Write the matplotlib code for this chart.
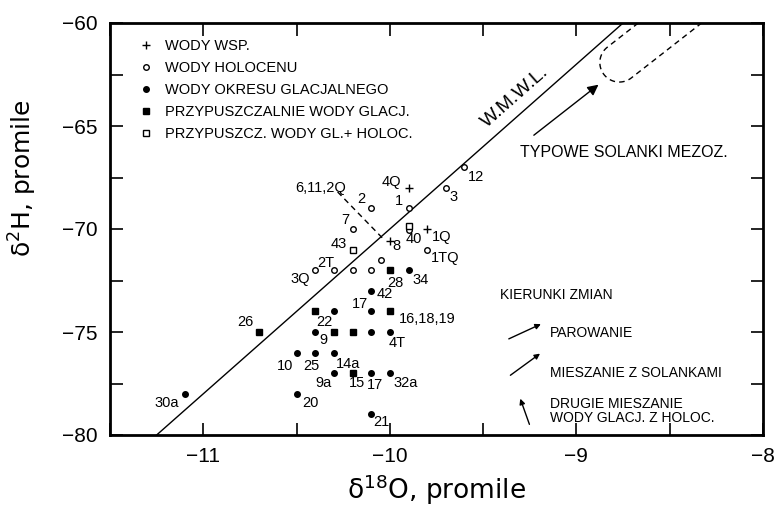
import numpy as np
import matplotlib
matplotlib.use('Agg')
import matplotlib.pyplot as plt
from matplotlib.ticker import MultipleLocator, FuncFormatter
from matplotlib.lines import Line2D

plt.rcParams['font.family'] = ['Liberation Sans', 'DejaVu Sans']

# wody wspolczesne (+)
wsp_x = [-9.9, -9.8, -10.0]
wsp_y = [-68.0, -70.0, -70.6]
wsp_lab = ['4Q', '1Q', '8']

# wody holocenu (o)
hol_x = [-9.6, -9.7, -10.1, -9.9, -10.2, -9.8, -10.05, -10.4, -10.3, -10.2, -10.1, -9.9]
hol_y = [-67.0, -68.0, -69.0, -69.0, -70.0, -71.0, -71.5, -72.0, -72.0, -72.0, -72.0, -70.05]
hol_lab = ['12', '3', '2', '1', '7', '1TQ', '', '3Q', '2T', '', '', '']

# wody okresu glacjalnego (kropka)
gla_x = [-9.9, -10.1, -10.1, -10.3, -10.4, -10.1, -10.0, -10.5, -10.4, -10.3,
         -10.3, -10.1, -10.0, -11.1, -10.5, -10.1]
gla_y = [-72.0, -73.0, -74.0, -74.0, -75.0, -75.0, -75.0, -76.0, -76.0, -76.0,
         -77.0, -77.0, -77.0, -78.0, -78.0, -79.0]
gla_lab = ['34', '42', '17', '22', '9', '', '4T', '10', '25', '14a',
           '9a', '17', '32a', '30a', '20', '21']

# przypuszczalnie wody glacj. (kwadrat)
pgl_x = [-10.0, -10.7, -10.4, -10.3, -10.2, -10.0, -10.2]
pgl_y = [-72.0, -75.0, -74.0, -75.0, -75.0, -74.0, -77.0]
pgl_lab = ['28', '26', '', '', '', '16,18,19', '15']

# przypuszcz. wody gl. + holoc. (pusty kwadrat)
mix_x = [-10.2, -9.9]
mix_y = [-71.0, -69.85]
mix_lab = ['43', '40']

# przesuniecia etykiet (piksele)
wsp_off = [(-17, 6), (14, -8), (7, -5)]
hol_off = [(12, -10), (8, -9), (-10, 9), (-10, 7), (-7, 9), (18, -8), (0, 0),
           (-15, -9), (-8, 7), (0, 0), (0, 0), (0, 0)]
gla_off = [(12, -10), (14, -3), (-11, 7), (-10, -11), (8, -8), (0, 0), (7, -11),
           (-12, -13), (-4, -13), (14, -11), (-10, -10), (4, -12), (16, -10),
           (-18, -9), (14, -9), (10, -8)]
pgl_off = [(6, -13), (-14, 10), (0, 0), (0, 0), (0, 0), (37, -8), (4, -10)]
mix_off = [(-14, 6), (5, -13)]

fig = plt.figure(figsize=(7.79, 5.07), dpi=100)
ax = fig.add_axes([110 / 779, 72 / 507, 653 / 779, 412 / 507])
ax.set_xlim(-11.5, -8)
ax.set_ylim(-80, -60)

# linia W.M.W.L.
lx = np.array([-11.5, -8.0])
ax.plot(lx, 8 * lx + 10, color='black', lw=1)

ax.plot(wsp_x, wsp_y, '+', color='black', ms=6, mew=1)
ax.plot(hol_x, hol_y, 'o', mfc='white', mec='black', ms=4, mew=1)
ax.plot(gla_x, gla_y, 'o', color='black', ms=4)
ax.plot(pgl_x, pgl_y, 's', color='black', ms=4.5)
ax.plot(mix_x, mix_y, 's', mfc='white', mec='black', ms=4.5, mew=1)

for xs, ys, labs, offs in [(wsp_x, wsp_y, wsp_lab, wsp_off),
                           (hol_x, hol_y, hol_lab, hol_off),
                           (gla_x, gla_y, gla_lab, gla_off),
                           (pgl_x, pgl_y, pgl_lab, pgl_off),
                           (mix_x, mix_y, mix_lab, mix_off)]:
    for x, y, t, o in zip(xs, ys, labs, offs):
        if t:
            ax.annotate(t, (x, y), xytext=o, textcoords='offset pixels',
                        ha='center', va='center', fontsize=10.5)

ax.text(-10.37, -68.0, '6,11,2Q', ha='center', va='center', fontsize=10.5)
ax.plot([-10.28, -10.03], [-68.2, -70.53], '--', color='black', lw=1, dashes=(4, 3))

ang = np.degrees(np.arctan(8 * (412 / 20) / (653 / 3.5)))
ax.text(-9.33, -63.6, 'W.M.W.L.', rotation=ang, ha='center', va='center', fontsize=14)

# obszar typowych solanek (przerywany kontur)
cx, cy = ax.transData.transform((-8.77, -61.92))
r = 19.5
a = np.radians(38)
u = np.array([np.cos(a), np.sin(a)])
n = np.array([np.sin(a), -np.cos(a)])
t = np.linspace(np.pi / 2, 3 * np.pi / 2, 40)
arc = np.array([[cx, cy] + r * (np.cos(tt) * u + np.sin(tt) * -n) for tt in t])
p1 = np.array([cx, cy]) + r * n
p2 = np.array([cx, cy]) - r * n
pts = np.vstack([p2 + 120 * u, arc, p1 + 120 * u])
pts = ax.transData.inverted().transform(pts)
ax.plot(pts[:, 0], pts[:, 1], color='black', lw=1, dashes=(4, 3))

ax.annotate('', xy=(-8.87, -62.91), xytext=(-9.24, -65.53),
            arrowprops=dict(arrowstyle='-|>', color='black', lw=1, mutation_scale=16))
ax.text(-9.30, -66.3, 'TYPOWE SOLANKI MEZOZ.', ha='left', va='center', fontsize=11.5)

# kierunki zmian
ax.text(-9.41, -73.2, 'KIERUNKI ZMIAN', ha='left', va='center', fontsize=10)
ax.annotate('', xy=(-9.177, -74.56), xytext=(-9.376, -75.39),
            arrowprops=dict(arrowstyle='-|>', color='black', lw=1, mutation_scale=8))
ax.annotate('', xy=(-9.183, -75.97), xytext=(-9.366, -77.18),
            arrowprops=dict(arrowstyle='-|>', color='black', lw=1, mutation_scale=8))
ax.annotate('', xy=(-9.306, -78.11), xytext=(-9.247, -79.61),
            arrowprops=dict(arrowstyle='-|>', color='black', lw=1, mutation_scale=8))
ax.text(-9.14, -75.05, 'PAROWANIE', ha='left', va='center', fontsize=10)
ax.text(-9.14, -76.99, 'MIESZANIE Z SOLANKAMI', ha='left', va='center', fontsize=10)
ax.text(-9.14, -78.85, 'DRUGIE MIESZANIE\nWODY GLACJ. Z HOLOC.', ha='left',
        va='center', fontsize=10, linespacing=1.0)

# legenda
handles = [
    Line2D([], [], ls='', marker='+', color='black', ms=6, mew=1),
    Line2D([], [], ls='', marker='o', mfc='white', mec='black', ms=4, mew=1),
    Line2D([], [], ls='', marker='o', color='black', ms=4),
    Line2D([], [], ls='', marker='s', color='black', ms=4.5),
    Line2D([], [], ls='', marker='s', mfc='white', mec='black', ms=4.5, mew=1),
]
names = ['WODY WSP.', 'WODY HOLOCENU', 'WODY OKRESU GLACJALNEGO',
         'PRZYPUSZCZALNIE WODY GLACJ.', 'PRZYPUSZCZ. WODY GL.+ HOLOC.']
ax.legend(handles, names, loc='upper left', bbox_to_anchor=(0.035, 0.975),
          frameon=False, fontsize=10.5, handlelength=1, handletextpad=0.8,
          labelspacing=0.55, borderaxespad=0)

fmt_x = FuncFormatter(lambda v, p: ('%d' % round(v)).replace('-', '\u2212') if abs(v - round(v)) < 1e-6 else '')
fmt_y = FuncFormatter(lambda v, p: ('%d' % round(v)).replace('-', '\u2212') if abs(v / 5 - round(v / 5)) < 1e-6 else '')
ax.xaxis.set_major_locator(MultipleLocator(0.5))
ax.yaxis.set_major_locator(MultipleLocator(2.5))
ax.xaxis.set_major_formatter(fmt_x)
ax.yaxis.set_major_formatter(fmt_y)
ax.tick_params(direction='in', length=9, width=1.2, top=True, right=True,
               labelsize=15, pad=9)
for s in ax.spines.values():
    s.set_linewidth(2)

ax.set_xlabel('\u03b4$^{18}$O, promile', fontsize=19, family='DejaVu Sans')
ax.set_ylabel('\u03b4$^{2}$H, promile', fontsize=18, family='DejaVu Sans')
ax.xaxis.set_label_coords(0.5, -0.092)
ax.yaxis.set_label_coords(-0.108, 0.624)

fig.savefig('out.png', dpi=100)
